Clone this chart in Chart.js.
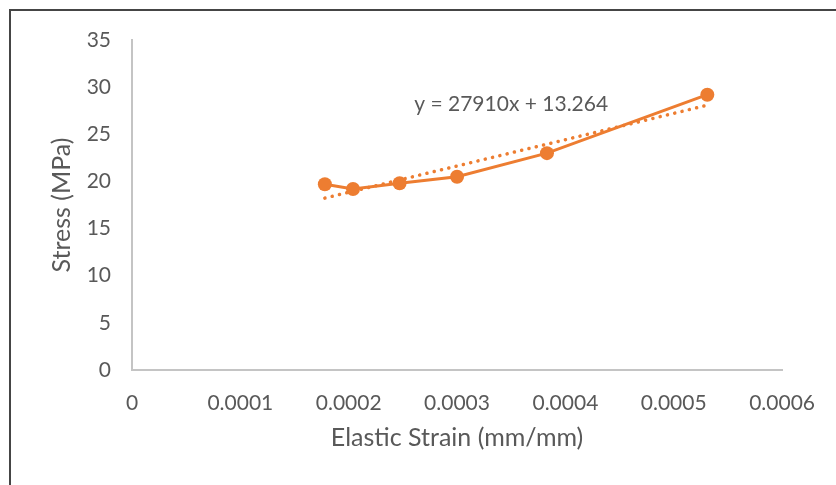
<!DOCTYPE html>
<html>
<head>
<meta charset="utf-8">
<script src="https://cdn.jsdelivr.net/npm/chart.js@4/dist/chart.umd.min.js"></script>
<style>
    html, body { margin: 0; padding: 0; background: #fff; }
    #wrap { position: relative; width: 836px; height: 485px; }
    #frame {
        position: absolute; left: 9px; top: 9px; right: 0; bottom: 0;
        border-top: 2px solid #454545; border-left: 2px solid #454545;
        pointer-events: none;
    }
    canvas { position: absolute; left: 0; top: 0; }
</style>
</head>
<body>
<div id="wrap">
    <canvas id="stressChart" width="836" height="485"></canvas>
    <div id="frame"></div>
</div>
<script>
// measured points
const strainValues = [0.000178, 0.000204, 0.000247, 0.0003, 0.000383, 0.000531];
const stressValues = [19.7, 19.2, 19.8, 20.5, 23.0, 29.2];
const xTicks = [0, 0.0001, 0.0002, 0.0003, 0.0004, 0.0005, 0.0006];
const yTicks = [0, 5, 10, 15, 20, 25, 30, 35];

// linear trend line
const trendSlope = 27910;
const trendIntercept = 13.264;
const trendLabel = "y = 27910x + 13.264";

const orange = "#ED7D31";
const textGrey = "#595959";
const fontFamily = "Lato, 'Open Sans', sans-serif";

const xMin = strainValues[0];
const xMax = strainValues[strainValues.length - 1];
const trendPoints = [xMin, xMax].map((x) => ({ x: x, y: trendSlope * x + trendIntercept }));

const equationLabel = {
    id: "equationLabel",
    afterDatasetsDraw(chart) {
        const { ctx, scales } = chart;
        ctx.save();
        ctx.font = "21px " + fontFamily;
        ctx.fillStyle = textGrey;
        ctx.textAlign = "center";
        ctx.textBaseline = "middle";
        ctx.fillText(trendLabel, scales.x.getPixelForValue(0.000350), scales.y.getPixelForValue(28.2));
        ctx.restore();
    },
};

new Chart(document.getElementById("stressChart"), {
    type: "scatter",
    data: {
        datasets: [
            {
                label: "Stress",
                data: strainValues.map((x, i) => ({ x: x, y: stressValues[i] })),
                showLine: true,
                borderColor: orange,
                backgroundColor: orange,
                borderWidth: 3,
                pointRadius: 7,
                pointBorderWidth: 0,
                pointBackgroundColor: orange,
                tension: 0,
            },
            {
                label: "Linear",
                data: trendPoints,
                showLine: true,
                borderColor: orange,
                borderWidth: 3.5,
                borderDash: [0.1, 7.4],
                borderCapStyle: "round",
                pointRadius: 0,
            },
        ],
    },
    options: {
        responsive: false,
        animation: false,
        layout: { padding: { left: 0, right: 53, top: 40, bottom: 0 } },
        plugins: { legend: { display: false }, tooltip: { enabled: false } },
        scales: {
            x: {
                type: "linear",
                min: 0,
                max: 0.0006,
                afterBuildTicks: (s) => { s.ticks = xTicks.map((v) => ({ value: v })); },
                afterFit: (s) => { s.height = 115; },
                grid: { drawOnChartArea: false, drawTicks: false },
                border: { color: "#c4c4c4", width: 2 },
                ticks: {
                    color: textGrey,
                    padding: 21,
                    maxRotation: 0,
                    font: { family: fontFamily, size: 21 },
                    callback: (v) => String(+v.toFixed(4)),
                },
                title: {
                    display: true,
                    text: "Elastic Strain (mm/mm)",
                    color: textGrey,
                    font: { family: fontFamily, size: 25 },
                    padding: { top: 0, bottom: 32 },
                },
            },
            y: {
                min: 0,
                max: 35,
                afterBuildTicks: (s) => { s.ticks = yTicks.map((v) => ({ value: v })); },
                afterFit: (s) => { s.width = 132; },
                grid: { drawOnChartArea: false, drawTicks: false },
                border: { color: "#c4c4c4", width: 2 },
                ticks: {
                    color: textGrey,
                    padding: 21,
                    font: { family: fontFamily, size: 21 },
                },
                title: {
                    display: true,
                    text: "Stress (MPa)",
                    color: textGrey,
                    font: { family: fontFamily, size: 25 },
                    padding: { top: 47, bottom: 0 },
                },
            },
        },
    },
    plugins: [equationLabel],
});
</script>
</body>
</html>
